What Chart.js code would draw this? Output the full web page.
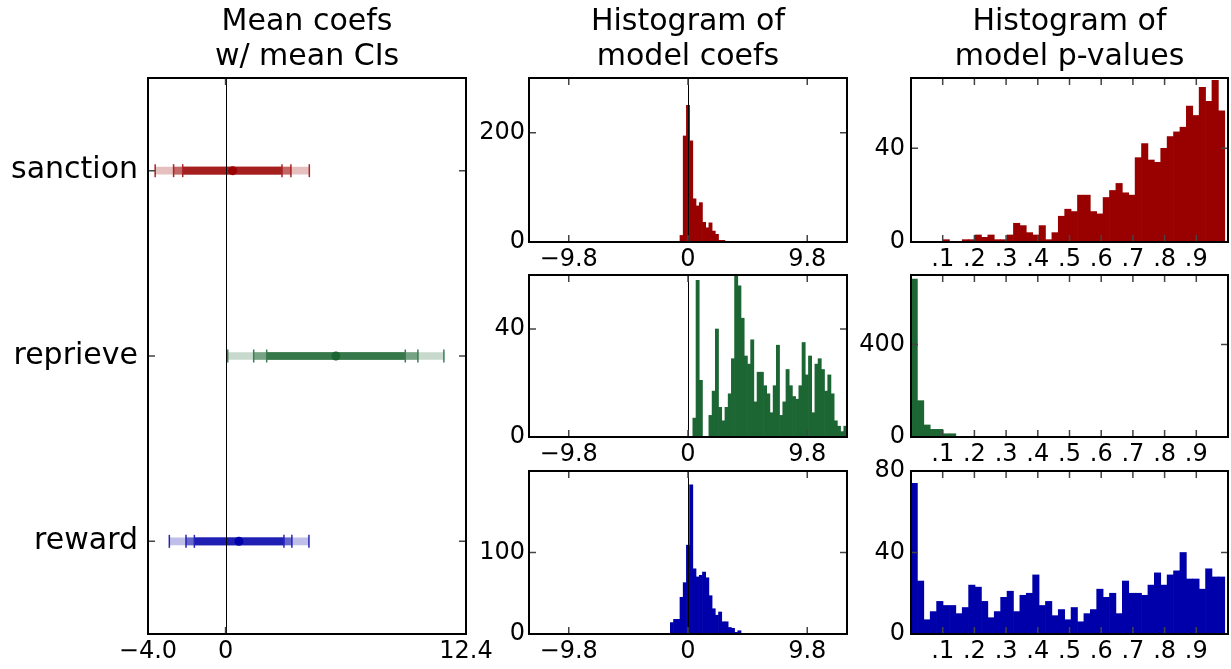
<!DOCTYPE html>
<html>
<head>
<meta charset="utf-8">
<script src="https://cdn.jsdelivr.net/npm/chart.js@4.4.1/dist/chart.umd.min.js"></script>
<style>
  body { margin: 0; background: #fff; }
  #wrap { position: relative; width: 1231px; height: 669px; overflow: hidden; background: #fff; }
  #wrap canvas { position: absolute; }
</style>
</head>
<body>
<div id="wrap"></div>
<script>
// ---- data ----
var categories = ['sanction', 'reprieve', 'reward'];
var coefMeans = [0.37, 5.69, 0.69];
var ci90Low  = [-2.21, 2.12, -1.61];
var ci90High = [2.91, 9.27, 3.01];
var ci95Low  = [-2.68, 1.45, -2.04];
var ci95High = [3.37, 9.92, 3.42];
var ci99Low  = [-3.63, 0.11, -2.90];
var ci99High = [4.32, 11.26, 4.30];
var meanAxisTicks = [-4.0, 0, 12.4];

// coef histograms: 99 bins over [-13.067, 13.067]
var coefHalfRange = 13.067;
var coefBinCount = 99;
var coefTicks = [-9.8, 0, 9.8];
var sanctionCoefFirstBin = 47;
var sanctionCoefCounts = [12, 194, 250, 185, 79, 66, 72, 36, 26, 35, 20, 14, 3, 3];
var reprieveCoefFirstBin = 51;
var reprieveCoefCounts = [7, 58, 21, 0, 0, 8, 17, 40, 11, 6, 11, 16, 29, 60, 56, 44, 30, 27, 36, 13,
  24, 24, 19, 16, 9, 19, 34, 8, 13, 25, 19, 15, 14, 19, 35, 23, 30, 9, 27, 29, 25, 17, 23, 16, 6, 4, 2, 4];
var rewardCoefFirstBin = 44;
var rewardCoefCounts = [14, 18, 18, 45, 63, 109, 183, 80, 70, 72, 76, 69, 47, 31, 23, 27, 15, 15, 8, 7, 2, 4];

// p-value histograms
var pBinWidth = 0.0202;
var pTicks = [0.1, 0.2, 0.3, 0.4, 0.5, 0.6, 0.7, 0.8, 0.9];
var sanctionPCounts = [0, 0, 0, 0, 0, 1, 0, 0, 1, 1, 3, 2, 3, 1, 1, 3, 8, 7, 4, 3, 7, 1, 4, 11, 14,
  13, 20, 20, 13, 12, 19, 22, 25, 21, 20, 36, 42, 35, 34, 40, 45, 47, 49, 58, 54, 66, 60, 69, 56];
var reprievePCounts = [682, 157, 52, 33, 33, 14, 14];
var rewardPCounts = [74, 26, 7, 11, 16, 14, 14, 10, 13, 24, 23, 16, 8, 11, 18, 21, 11, 19, 20, 29,
  14, 16, 9, 12, 7, 13, 6, 10, 12, 22, 18, 20, 10, 26, 20, 20, 19, 24, 30, 24, 29, 31, 40, 27, 27,
  22, 32, 28, 28];

// y axes of the histograms
var coefYMax = [300, 60, 200];
var coefYTicks = [[0, 200], [0, 40], [0, 100]];
var pYMax = [70, 700, 80];
var pYTicks = [[0, 40], [0, 400], [0, 40, 80]];

// ---- styling ----
var FONT = 'DejaVu Sans';
var seriesRGB = [[153, 0, 0], [28, 102, 51], [0, 0, 170]];
function tint(c, a) {
  return 'rgb(' + c.map(function (v) { return Math.round(255 - (255 - v) * a); }).join(',') + ')';
}

// box + inward ticks + optional zero line
Chart.register({
  id: 'frame',
  afterDatasetsDraw: function (chart, args, opts) {
    var ctx = chart.ctx, a = chart.chartArea, sx = chart.scales.x, sy = chart.scales.y;
    ctx.save();
    if (opts.zero) {
      var zx = Math.round(sx.getPixelForValue(0)) + 0.5;
      ctx.strokeStyle = '#000';
      ctx.lineWidth = 1;
      ctx.beginPath(); ctx.moveTo(zx, a.top); ctx.lineTo(zx, a.bottom); ctx.stroke();
    }
    ctx.strokeStyle = '#444';
    ctx.lineWidth = 1.5;
    ctx.beginPath();
    sx.ticks.forEach(function (t, i) {
      var px = sx.getPixelForTick(i);
      ctx.moveTo(px, a.bottom); ctx.lineTo(px, a.bottom - 7);
      ctx.moveTo(px, a.top); ctx.lineTo(px, a.top + 7);
    });
    sy.ticks.forEach(function (t, i) {
      var py = sy.getPixelForTick(i);
      ctx.moveTo(a.left, py); ctx.lineTo(a.left + 7, py);
      ctx.moveTo(a.right, py); ctx.lineTo(a.right - 7, py);
    });
    ctx.stroke();
    ctx.strokeStyle = '#000';
    ctx.lineWidth = 2;
    ctx.strokeRect(a.left, a.top, a.right - a.left, a.bottom - a.top);
    ctx.restore();
  }
});

var wrap = document.getElementById('wrap');
function addCanvas(box) {
  var c = document.createElement('canvas');
  c.width = box.w; c.height = box.h;
  c.style.left = box.x + 'px'; c.style.top = box.y + 'px';
  c.style.width = box.w + 'px'; c.style.height = box.h + 'px';
  wrap.appendChild(c);
  return c;
}

var TITLE_H = 2 * 30 * 1.17 + 3;
function place(box, area, hasTitle) {
  return {
    padding: { left: 0, right: box.x + box.w - area.r, top: area.t - box.y - (hasTitle ? TITLE_H : 0), bottom: 0 },
    yW: area.l - box.x,
    xH: box.y + box.h - area.b
  };
}
function titleOpts(lines) {
  return {
    display: !!lines, text: lines || '', fullSize: false, color: '#000',
    font: { family: FONT, size: 30, weight: 'normal', lineHeight: 1.17 },
    padding: { top: 0, bottom: 3 }
  };
}
function fmtSigned(v) {
  if (v === 0) return '0';
  return (v < 0 ? '\u2212' : '') + Math.abs(v).toFixed(1);
}

// ---- left panel: mean coefs with CIs ----
(function () {
  var box = { x: 0, y: 0, w: 505, h: 669 };
  var area = { l: 148, t: 78, r: 466, b: 634 };
  var L = place(box, area, true);
  var caps = [], capColors = [], means = [], meanColors = [];
  categories.forEach(function (c, i) {
    [ci99Low[i], ci95Low[i], ci90Low[i], ci90High[i], ci95High[i], ci99High[i]].forEach(function (v) {
      caps.push({ x: v, y: c });
      capColors.push(tint(seriesRGB[i], 0.85));
    });
    means.push({ x: coefMeans[i], y: c });
    meanColors.push(tint(seriesRGB[i], 1));
  });
  function band(lo, hi, a, order) {
    return {
      type: 'bar', indexAxis: 'y', grouped: false, barThickness: 7, borderWidth: 0, order: order,
      data: categories.map(function (c, i) { return [lo[i], hi[i]]; }),
      backgroundColor: seriesRGB.map(function (c) { return tint(c, a); })
    };
  }
  new Chart(addCanvas(box), {
    type: 'bar',
    data: {
      labels: categories,
      datasets: [
        band(ci99Low, ci99High, 0.25, 5),
        band(ci95Low, ci95High, 0.6, 4),
        band(ci90Low, ci90High, 0.88, 3),
        { type: 'scatter', data: caps, order: 1, pointStyle: 'line', pointRotation: 90, pointRadius: 6.5,
          pointBorderWidth: 1.5, pointBorderColor: capColors, pointBackgroundColor: capColors },
        { type: 'scatter', data: means, order: 0, pointStyle: 'circle', pointRadius: 4.5,
          pointBorderWidth: 0, pointBackgroundColor: meanColors, pointBorderColor: meanColors }
      ]
    },
    options: {
      responsive: false, animation: false,
      layout: { padding: L.padding },
      plugins: { legend: { display: false }, tooltip: { enabled: false },
        title: titleOpts(['Mean coefs', 'w/ mean CIs']), frame: { zero: true } },
      scales: {
        x: {
          type: 'linear', min: -4.0, max: 12.4, offset: false,
          afterBuildTicks: function (s) { s.ticks = meanAxisTicks.map(function (v) { return { value: v }; }); },
          ticks: { callback: fmtSigned, autoSkip: false, maxRotation: 0, padding: 3, color: '#000', font: { family: FONT, size: 24 } },
          grid: { display: false, drawTicks: false }, border: { display: false },
          afterFit: function (s) { s.height = L.xH; s.paddingLeft = 0; s.paddingRight = 0; }
        },
        y: {
          type: 'category', offset: true,
          ticks: { padding: 10, color: '#000', font: { family: FONT, size: 30 } },
          grid: { display: false, drawTicks: false }, border: { display: false },
          afterFit: function (s) { s.width = L.yW; s.paddingTop = 0; s.paddingBottom = 0; }
        }
      }
    }
  });
})();

// ---- histograms ----
function histChart(box, area, title, points, color, xMin, xMax, xTicks, xFmt, yMax, yTicks, yPad, zero) {
  var L = place(box, area, !!title);
  new Chart(addCanvas(box), {
    type: 'bar',
    data: { datasets: [{ data: points, backgroundColor: color, borderWidth: 0, barPercentage: 1, categoryPercentage: 1 }] },
    options: {
      responsive: false, animation: false,
      layout: { padding: L.padding },
      plugins: { legend: { display: false }, tooltip: { enabled: false },
        title: titleOpts(title), frame: { zero: zero } },
      scales: {
        x: {
          type: 'linear', min: xMin, max: xMax, offset: false,
          afterBuildTicks: function (s) { s.ticks = xTicks.map(function (v) { return { value: v }; }); },
          ticks: { callback: xFmt, autoSkip: false, maxRotation: 0, padding: 3, color: '#000', font: { family: FONT, size: 24 } },
          grid: { display: false, drawTicks: false }, border: { display: false },
          afterFit: function (s) { s.height = L.xH; s.paddingLeft = 0; s.paddingRight = 0; }
        },
        y: {
          type: 'linear', min: 0, max: yMax,
          afterBuildTicks: function (s) { s.ticks = yTicks.map(function (v) { return { value: v }; }); },
          ticks: { callback: function (v) { return String(v); }, autoSkip: false, padding: yPad, color: '#000', font: { family: FONT, size: 24 } },
          grid: { display: false, drawTicks: false }, border: { display: false },
          afterFit: function (s) { s.width = L.yW; s.paddingTop = 0; s.paddingBottom = 0; }
        }
      }
    }
  });
}

var coefBinWidth = 2 * coefHalfRange / coefBinCount;
function coefPoints(first, counts) {
  return counts.map(function (n, i) { return { x: -coefHalfRange + (first + i + 0.5) * coefBinWidth, y: n }; });
}
function pPoints(counts) {
  return counts.map(function (n, i) { return { x: (i + 0.5) * pBinWidth, y: n }; });
}
function fmtP(v) { return '.' + Math.round(v * 10); }

var rowBoxes = [{ y: 0, h: 270 }, { y: 250, h: 220 }, { y: 445, h: 224 }];
var rowAreas = [{ t: 78, b: 242 }, { t: 275, b: 437 }, { t: 471, b: 634 }];
var coefSeries = [
  coefPoints(sanctionCoefFirstBin, sanctionCoefCounts),
  coefPoints(reprieveCoefFirstBin, reprieveCoefCounts),
  coefPoints(rewardCoefFirstBin, rewardCoefCounts)
];
var pSeries = [pPoints(sanctionPCounts), pPoints(reprievePCounts), pPoints(rewardPCounts)];

for (var r = 0; r < 3; r++) {
  var col = tint(seriesRGB[r], 1);
  histChart({ x: 455, y: rowBoxes[r].y, w: 415, h: rowBoxes[r].h },
    { l: 529, r: 847, t: rowAreas[r].t, b: rowAreas[r].b },
    r === 0 ? ['Histogram of', 'model coefs'] : null,
    coefSeries[r], col, -coefHalfRange, coefHalfRange, coefTicks, fmtSigned,
    coefYMax[r], coefYTicks[r], 4, true);
  histChart({ x: 855, y: rowBoxes[r].y, w: 376, h: rowBoxes[r].h },
    { l: 911, r: 1228, t: rowAreas[r].t, b: rowAreas[r].b },
    r === 0 ? ['Histogram of', 'model p-values'] : null,
    pSeries[r], col, 0, 1, pTicks, fmtP,
    pYMax[r], pYTicks[r], 6, false);
}
</script>
</body>
</html>
